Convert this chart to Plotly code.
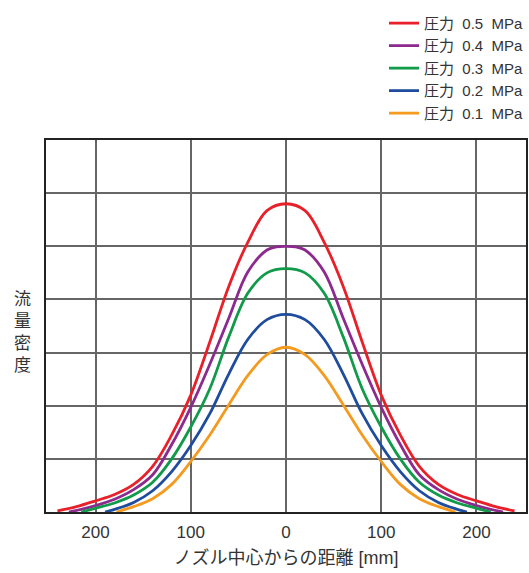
import plotly.graph_objects as go

# Distance from nozzle centre [mm] and flow density for each pressure
x_05 = [-240, -220, -200, -180, -160, -140, -120, -100, -80, -60, -40, -20, 0,
        20, 40, 60, 80, 100, 120, 140, 160, 180, 200, 220, 240]
y_05 = [0.02, 0.10, 0.21, 0.33, 0.52, 0.86, 1.45, 2.20, 3.20, 4.25, 5.08, 5.67, 5.80,
        5.67, 5.08, 4.25, 3.20, 2.20, 1.45, 0.86, 0.52, 0.33, 0.21, 0.10, 0.02]

x_04 = [-228, -215, -200, -180, -160, -140, -120, -100, -80, -60, -40, -20, -10, 0,
        10, 20, 40, 60, 80, 100, 120, 140, 160, 180, 200, 215, 228]
y_04 = [0.00, 0.05, 0.12, 0.24, 0.42, 0.70, 1.27, 1.97, 2.78, 3.65, 4.52, 4.93, 4.99, 5.00,
        4.99, 4.93, 4.52, 3.65, 2.78, 1.97, 1.27, 0.70, 0.42, 0.24, 0.12, 0.05, 0.00]

x_03 = [-215, -200, -180, -160, -140, -120, -100, -80, -60, -40, -20, 0,
        20, 40, 60, 80, 100, 120, 140, 160, 180, 200, 215]
y_03 = [0.00, 0.07, 0.17, 0.32, 0.56, 1.00, 1.60, 2.32, 3.30, 4.12, 4.50, 4.58,
        4.50, 4.12, 3.30, 2.32, 1.60, 1.00, 0.56, 0.32, 0.17, 0.07, 0.00]

x_02 = [-190, -180, -160, -140, -120, -100, -80, -60, -40, -20, 0,
        20, 40, 60, 80, 100, 120, 140, 160, 180, 190]
y_02 = [0.00, 0.05, 0.18, 0.40, 0.76, 1.25, 1.85, 2.60, 3.25, 3.62, 3.72,
        3.62, 3.25, 2.60, 1.85, 1.25, 0.76, 0.40, 0.18, 0.05, 0.00]

x_01 = [-178, -160, -140, -120, -100, -80, -60, -40, -20, 0,
        20, 40, 60, 80, 100, 120, 140, 160, 178]
y_01 = [0.00, 0.10, 0.25, 0.52, 0.95, 1.45, 2.02, 2.57, 2.96, 3.10,
        2.96, 2.57, 2.02, 1.45, 0.95, 0.52, 0.25, 0.10, 0.00]

series_names = ["圧力\u00a0\u00a00.5\u00a0\u00a0MPa", "圧力\u00a0\u00a00.4\u00a0\u00a0MPa",
                "圧力\u00a0\u00a00.3\u00a0\u00a0MPa", "圧力\u00a0\u00a00.2\u00a0\u00a0MPa",
                "圧力\u00a0\u00a00.1\u00a0\u00a0MPa"]
series_x = [x_05, x_04, x_03, x_02, x_01]
series_y = [y_05, y_04, y_03, y_02, y_01]
colors = ["#e8202a", "#8c2a8e", "#119a4a", "#1f4c9c", "#f49b1f"]

tick_vals = [-200, -100, 0, 100, 200]
tick_text = ["200", "100", "0", "100", "200"]

FONT = "Liberation Sans, Noto Sans CJK JP, sans-serif"

fig = go.Figure()
for name, xs, ys, c in zip(series_names, series_x, series_y, colors):
    fig.add_trace(go.Scatter(
        x=xs, y=ys, mode="lines", name=name,
        line=dict(color=c, width=2.8, shape="spline", smoothing=1.0),
    ))

fig.update_layout(
    width=529, height=573,
    margin=dict(l=46, r=3, t=140, b=61, autoexpand=False),
    paper_bgcolor="white", plot_bgcolor="white",
    font=dict(family=FONT, color="#333333", size=15),
    showlegend=True,
    legend=dict(
        xref="container", yref="container",
        x=1.0, y=0.988, xanchor="right", yanchor="top",
        font=dict(size=15, color="#333333"),
        bgcolor="rgba(0,0,0,0)", itemwidth=30,
        tracegroupgap=0,
    ),
    xaxis=dict(
        range=[-252, 252], tickvals=tick_vals, ticktext=tick_text,
        showgrid=True, gridcolor="#666666", gridwidth=1.5,
        showline=True, linecolor="#222222", linewidth=1.5, mirror=True,
        ticks="outside", ticklen=4, tickcolor="rgba(0,0,0,0)", zeroline=False,
        tickfont=dict(size=17, color="#333333"),
        title=dict(text="ノズル中心からの距離 [mm]", font=dict(size=18, color="#333333"), standoff=10),
    ),
    yaxis=dict(
        range=[0, 7], dtick=1, showticklabels=False,
        showgrid=True, gridcolor="#666666", gridwidth=1.5,
        showline=True, linecolor="#222222", linewidth=1.5, mirror=True,
        ticks="", zeroline=False,
    ),
    annotations=[dict(
        text="流<br>量<br>密<br>度", xref="paper", yref="paper",
        x=-0.05, y=0.483, xanchor="center", yanchor="middle",
        showarrow=False, font=dict(size=17, color="#333333"),
    )],
)

fig.write_html(
    "out.html",
    config={"displayModeBar": False},
    post_script="document.body.style.margin='0';document.body.style.overflow='hidden';",
)
